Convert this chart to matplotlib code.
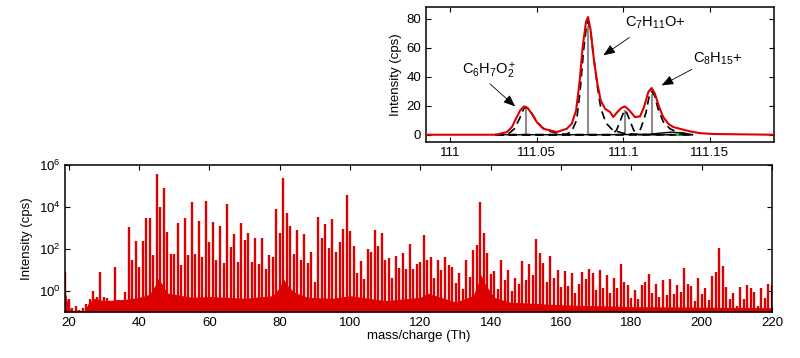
import numpy as np
import matplotlib
matplotlib.use('Agg')
import matplotlib.pyplot as plt
from matplotlib.ticker import NullLocator, FixedLocator

plt.rcParams['font.family'] = ['Liberation Sans', 'DejaVu Sans']
plt.rcParams['mathtext.fontset'] = 'custom'
plt.rcParams['mathtext.rm'] = 'Liberation Sans'
plt.rcParams['mathtext.it'] = 'Liberation Sans:italic'
plt.rcParams['font.size'] = 9

# ---- main spectrum: peak height at each nominal mass (cps) ----
masses = np.arange(19, 221)
heights = [
    8, 0.4, 0.16, 0.2, 0.13, 0.16, 0.25, 0.4, 1.0, 0.5,            # 19-28
    7.8, 0.5, 0.45, 0.28, 14, 0.38, 0.35, 0.87, 1150, 30,           # 29-38
    240, 14, 250, 2900, 2900, 51, 363000, 10500, 78000, 680,        # 39-48
    56, 56, 1800, 17, 2900, 51, 17800, 56, 2100, 43,                # 49-58
    19500, 210, 2000, 30, 1300, 21, 13500, 130, 500, 25,            # 59-68
    1800, 270, 560, 23, 350, 19, 350, 11, 51, 42,                   # 69-78
    7800, 600, 234000, 5400, 1300, 56, 800, 30, 500, 22,            # 79-88
    69, 2.8, 3200, 320, 1500, 107, 2600, 69, 220, 870,              # 89-98
    37000, 740, 145, 7.4, 27, 3.7, 100, 74, 780, 145,               # 99-108
    560, 29, 39, 4, 45, 12, 68, 11, 166, 11,                        # 109-118
    20, 23, 470, 30, 42, 4.3, 31, 9.5, 42, 17,                      # 119-128
    13.5, 2.3, 6.9, 1.2, 29, 4.8, 89, 155, 17800, 600,              # 129-138
    62, 6.2, 8.9, 1.2, 30, 3.3, 9.5, 1.05, 4, 2.2,                  # 139-148
    28, 3.3, 19, 5.8, 290, 62, 22, 2.8, 47, 4.3,                    # 149-158
    10, 1.5, 8.7, 1.7, 7.2, 0.83, 2.1, 7.8, 3.6, 11,                # 159-168
    6.9, 1.1, 9.5, 1.4, 5.8, 0.83, 4, 1.35, 20, 2.6,                # 169-178
    1.95, 0.48, 1.07, 0.42, 1.95, 2.7, 6.5, 0.78, 2.1, 0.54,        # 179-188
    3.3, 0.62, 3.7, 0.72, 1.95, 0.93, 12, 2.1, 1.8, 0.33,           # 189-198
    4, 0.72, 1.4, 0.39, 5.4, 7.8, 115, 16, 1.6, 0.42,               # 199-208
    0.83, 0.19, 1.55, 0.42, 1.9, 1.35, 0.89, 0.19, 1.4, 0.45,       # 209-218
    2.1, 2.0,                                                       # 219-220
]

# level of the dense low-intensity band under the peaks
bg_mass = [19.0, 19.6, 20.5, 24.5, 25.5, 27, 30, 36, 40, 43, 44.5, 45.2,
           46.5, 48, 55, 60, 70, 78, 80, 81, 82, 84, 88, 95, 100, 110, 120,
           122, 130, 135, 136.5, 137.2, 138.5, 141, 145, 160, 180, 200, 220]
bg_level = [0.9, 0.3, 0.12, 0.12, 0.25, 0.45, 0.35, 0.4, 0.5, 0.7, 1.8, 4.0,
            2.2, 0.8, 0.5, 0.55, 0.45, 0.6, 1.5, 4.0, 2.0, 0.9, 0.5, 0.45,
            0.6, 0.35, 0.5, 0.8, 0.3, 0.6, 2.5, 6.0, 2.0, 0.5, 0.3, 0.22,
            0.18, 0.17, 0.16]

# ---- inset: high-resolution view of nominal mass 111 ----
meas_x = [110.986, 111.0269, 111.0288, 111.0327, 111.0356, 111.0375, 111.0404,
          111.0427, 111.0446, 111.0471, 111.0500, 111.0538, 111.0577, 111.0615,
          111.0644, 111.0673, 111.0702, 111.0727, 111.0746, 111.0765, 111.0784,
          111.0796, 111.0811, 111.0830, 111.0850, 111.0869, 111.0894, 111.0923,
          111.0942, 111.0965, 111.0990, 111.1009, 111.1034, 111.1067, 111.1096,
          111.1119, 111.1144, 111.1163, 111.1182, 111.1207, 111.1230, 111.1259,
          111.1288, 111.1326, 111.1384, 111.1442, 111.1519, 111.1865]
meas_y = [0, 0, 0.7, 1.8, 5.3, 9.9, 16.8, 19.5, 18.6, 14.5, 8.7, 4.1, 3.0, 1.8,
          3.0, 4.1, 7.6, 16.8, 35.2, 60.5, 77.7, 81.1, 72, 51.3, 35.2, 23.7,
          17.9, 15.6, 12.2, 15.6, 18.6, 19.5, 16.8, 12.2, 12.6, 19, 29.4, 32.2,
          28.3, 19, 12.2, 7.6, 5.3, 4.1, 2.3, 1.1, 0.5, 0]

fit_c6_x = [111.026, 111.030, 111.034, 111.037, 111.040, 111.0425, 111.0437,
            111.046, 111.049, 111.053, 111.057, 111.062, 111.068, 111.140]
fit_c6_y = [0, 0, 1, 4, 11, 18, 19, 17, 11, 5, 2.5, 1, 0, 0]
fit_c7_x = [111.026, 111.066, 111.070, 111.073, 111.075, 111.077, 111.0785,
            111.0796, 111.081, 111.083, 111.085, 111.087, 111.090, 111.094,
            111.100, 111.110, 111.140]
fit_c7_y = [0, 0, 2, 10, 30, 58, 73, 78, 72, 52, 33, 18, 8, 3, 1, 0, 0]
fit_p3_x = [111.026, 111.093, 111.096, 111.098, 111.100, 111.1009, 111.102,
            111.104, 111.106, 111.109, 111.140]
fit_p3_y = [0, 0, 3, 9, 15, 17, 15, 9, 3, 0, 0]
fit_c8_x = [111.026, 111.107, 111.110, 111.113, 111.115, 111.1163, 111.118,
            111.120, 111.123, 111.127, 111.132, 111.140]
fit_c8_y = [0, 0, 4, 15, 27, 30, 27, 18, 9, 4, 1.5, 0]

base_x = [111.027, 111.06, 111.09, 111.115, 111.122, 111.128, 111.134, 111.140]
base_y = [0, 0, 0, 0.3, 1.2, 1.8, 1.2, 0]

stem_x = [111.0437, 111.0796, 111.1009, 111.1163]
stem_y = [18.5, 75, 17, 28]

labels = [r'C$_6$H$_7$O$_2^+$', r'C$_7$H$_{11}$O+', r'C$_8$H$_{15}$+']
label_xy = [(111.0225, 44), (111.1182, 77), (111.1546, 52.5)]
arrow_tail = [(111.023, 35), (111.1035, 67), (111.1395, 45)]
arrow_tip = [(111.0375, 19.5), (111.0884, 54.7), (111.1221, 34)]

red = '#dc0000'

fig = plt.figure(figsize=(8, 3.58), dpi=100)

# main spectrum
ax = fig.add_axes([0.0816, 0.1285, 0.8834, 0.4106])
ax.set_yscale('log')
ax.fill_between(bg_mass, 0.1, bg_level, color=red, lw=0)
ax.vlines(masses, 0.1, heights, color=red, lw=1.7)
ax.set_xlim(19, 220)
ax.set_ylim(0.1, 1e6)
ax.set_xticks(np.arange(20, 221, 20))
ax.yaxis.set_major_locator(FixedLocator([1, 1e2, 1e4, 1e6]))
ax.yaxis.set_minor_locator(NullLocator())
ax.tick_params(direction='in', top=True, right=True, length=3.5, labelsize=9.5)
ax.set_xlabel('mass/charge (Th)', fontsize=9.5, labelpad=1)
ax.set_ylabel('Intensity (cps)', fontsize=9.5, labelpad=4)
for s in ax.spines.values():
    s.set_linewidth(1.1)

# inset
ins = fig.add_axes([0.5325, 0.6034, 0.435, 0.377])
ins.vlines(stem_x, 0, stem_y, color='#8c8c8c', lw=1.5, zorder=2)
ins.plot(base_x, base_y, color='black', lw=1.0, zorder=2)
for fx, fy in [(fit_c6_x, fit_c6_y), (fit_c7_x, fit_c7_y),
               (fit_p3_x, fit_p3_y), (fit_c8_x, fit_c8_y)]:
    ins.plot(fx, fy, color='black', lw=1.2, ls=(0, (5, 3)), zorder=3)
ins.plot(meas_x, meas_y, color=red, lw=1.5, zorder=4)
ins.plot([111.1307], [0.3], 'o', color='#22bb22', ms=1.5, zorder=5)
for lab, txy, tail, tip in zip(labels, label_xy, arrow_tail, arrow_tip):
    ins.text(txy[0], txy[1], lab, ha='center', va='center', fontsize=10.5)
    ins.annotate('', xy=tip, xytext=tail,
                 arrowprops=dict(arrowstyle='-|>,head_length=0.8,head_width=0.32',
                                 color='black', lw=0.6, shrinkA=0, shrinkB=0))
ins.set_xlim(110.986, 111.187)
ins.set_ylim(-5, 88)
ins.set_xticks([111, 111.05, 111.1, 111.15])
ins.set_xticklabels(['111', '111.05', '111.1', '111.15'])
ins.set_yticks([0, 20, 40, 60, 80])
ins.tick_params(direction='in', top=True, right=True, length=3.5, labelsize=9.5)
ins.set_ylabel('Intensity (cps)', fontsize=9.5, labelpad=3)
for s in ins.spines.values():
    s.set_linewidth(1.1)

fig.savefig('out.png', dpi=100)
